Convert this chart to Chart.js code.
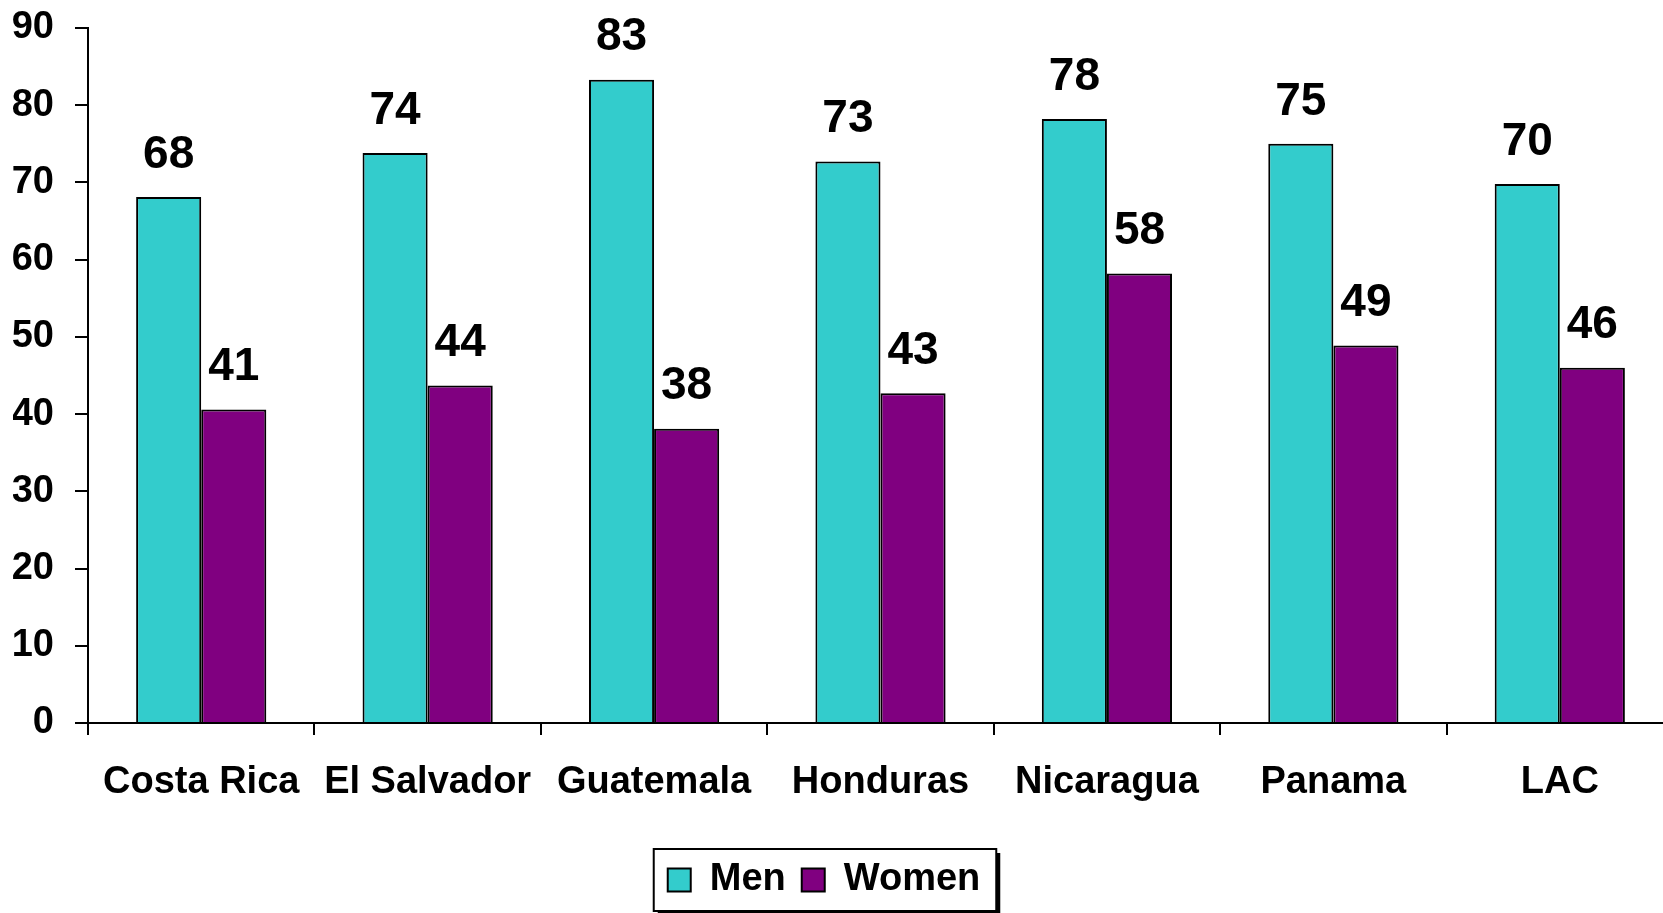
<!DOCTYPE html>
<html>
<head>
<meta charset="utf-8">
<script src="https://cdn.jsdelivr.net/npm/chart.js@4.4.1/dist/chart.umd.min.js"></script>
<style>
    html, body { margin: 0; padding: 0; background: #fff; overflow: hidden; }
    #wrap { width: 1663px; height: 913px; overflow: hidden; }
</style>
</head>
<body>
<div id="wrap"><canvas id="chart" width="1673" height="913"></canvas></div>
<script>
const countries = ['Costa Rica', 'El Salvador', 'Guatemala', 'Honduras', 'Nicaragua', 'Panama', 'LAC'];
const men = [68.1, 73.8, 83.3, 72.7, 78.2, 75.0, 69.8];
const women = [40.6, 43.7, 38.1, 42.7, 58.2, 48.9, 46.0];
const yMax = 90;
const yStep = 10;

const FONT = "'Liberation Sans', Arial, sans-serif";

// numbers over the bars
const barLabels = {
    id: 'barLabels',
    afterDatasetsDraw(chart) {
        const ctx = chart.ctx;
        ctx.save();
        ctx.font = 'bold 46px ' + FONT;
        ctx.fillStyle = '#000';
        ctx.textAlign = 'center';
        ctx.textBaseline = 'middle';
        chart.data.datasets.forEach((ds, i) => {
            chart.getDatasetMeta(i).data.forEach((bar, j) => {
                ctx.fillText(Math.round(ds.data[j]), bar.x, bar.y - 42);
            });
        });
        ctx.restore();
    }
};

// framed legend with a drop shadow
const legendFrame = {
    id: 'legendFrame',
    afterLayout(chart) {
        const lg = chart.legend;
        lg.left -= 19;
        lg.right -= 19;
    },
    beforeDraw(chart) {
        const boxes = chart.legend.legendHitBoxes;
        if (!boxes || !boxes.length) return;
        const first = boxes[0];
        const last = boxes[boxes.length - 1];
        const x = first.left - 14;
        const y = first.top - 12;
        const w = last.left + last.width + 16 - x;
        const h = first.height + 24;
        const ctx = chart.ctx;
        ctx.save();
        ctx.fillStyle = '#000';
        ctx.fillRect(x + 4, y + 4, w, h);
        ctx.fillStyle = '#fff';
        ctx.fillRect(x, y, w, h);
        ctx.lineWidth = 2;
        ctx.strokeStyle = '#000';
        ctx.strokeRect(x, y, w, h);
        ctx.restore();
    }
};

const chart = new Chart(document.querySelector('#chart'), {
    type: 'bar',
    data: {
        labels: countries,
        datasets: [{
            label: 'Men',
            data: men,
            backgroundColor: '#33CCCC',
            borderColor: '#000',
            borderWidth: 2
        }, {
            label: 'Women',
            data: women,
            backgroundColor: '#800080',
            borderColor: '#000',
            borderWidth: 2
        }]
    },
    options: {
        responsive: false,
        animation: false,
        layout: {
            padding: { left: 13, top: 28, right: 0, bottom: 4 }
        },
        datasets: {
            bar: {
                barPercentage: 1,
                categoryPercentage: 0.575
            }
        },
        scales: {
            x: {
                grid: {
                    drawOnChartArea: false,
                    drawTicks: true,
                    tickLength: 12,
                    color: '#000',
                    lineWidth: 2
                },
                border: { display: true, color: '#000', width: 2 },
                ticks: {
                    color: '#000',
                    font: { family: FONT, size: 38, weight: 'bold' },
                    padding: 25,
                    maxRotation: 0,
                    autoSkip: false
                },
                afterFit(scale) {
                    scale.height = 122;
                    scale.paddingLeft = 0;
                    scale.paddingRight = 0;
                }
            },
            y: {
                min: 0,
                max: yMax,
                grid: {
                    drawOnChartArea: false,
                    drawTicks: true,
                    tickLength: 13,
                    color: '#000',
                    lineWidth: 2
                },
                border: { display: true, color: '#000', width: 2 },
                ticks: {
                    stepSize: yStep,
                    color: '#000',
                    font: { family: FONT, size: 38, weight: 'bold' },
                    padding: 21
                },
                afterFit(scale) {
                    scale.width = 75;
                    scale.paddingTop = 0;
                    scale.paddingBottom = 0;
                }
            }
        },
        plugins: {
            legend: {
                position: 'bottom',
                labels: {
                    color: '#000',
                    font: { family: FONT, size: 38, weight: 'bold' },
                    boxWidth: 23,
                    boxHeight: 23,
                    padding: 16
                }
            },
            tooltip: { enabled: false }
        }
    },
    plugins: [barLabels, legendFrame]
});
</script>
</body>
</html>
